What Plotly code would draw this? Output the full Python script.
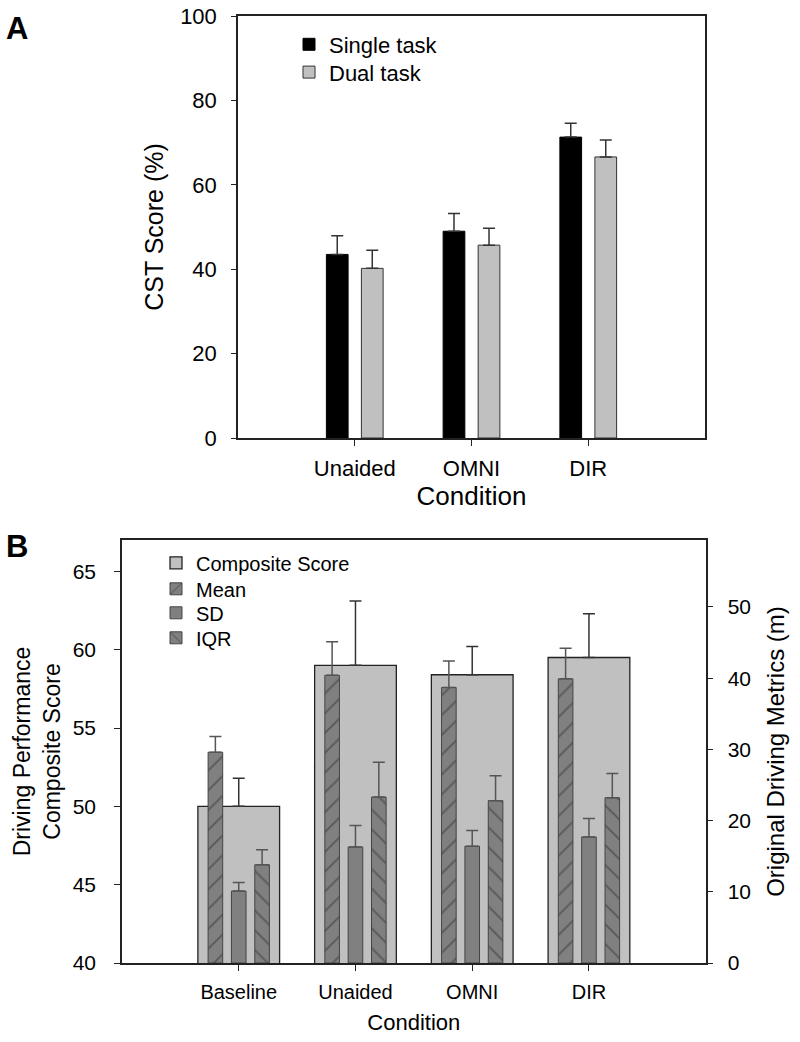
import plotly.graph_objects as go

# ---------------- Data ----------------
conditions_a = ["Unaided", "OMNI", "DIR"]
single_task = [43.5, 49.0, 71.3]
single_task_err = [4.4, 4.2, 3.3]
dual_task = [40.2, 45.7, 66.6]
dual_task_err = [4.3, 4.0, 4.0]

conditions_b = ["Baseline", "Unaided", "OMNI", "DIR"]
composite_score = [50.0, 59.0, 58.4, 59.5]
composite_err = [1.8, 4.1, 1.8, 2.8]
mean_metric = [29.6, 40.4, 38.7, 39.9]
mean_err = [2.2, 4.7, 3.7, 4.3]
sd_metric = [10.1, 16.3, 16.4, 17.7]
sd_err = [1.2, 3.0, 2.2, 2.6]
iqr_metric = [13.8, 23.3, 22.8, 23.2]
iqr_err = [2.1, 4.9, 3.5, 3.4]

FONT = "Liberation Sans, Arial, sans-serif"
W, H = 800, 1042


def px_x(p):
    return p / W


def px_y(p):
    return 1 - p / H


def eb(vals, color, width=6, thick=1.5):
    return dict(type="data", array=vals, arrayminus=[0] * len(vals), symmetric=False,
                color=color, thickness=thick, width=width)


fig = go.Figure()

# ---------------- Panel A ----------------
fig.add_trace(go.Bar(
    x=conditions_a, y=single_task, name="Single task",
    width=0.186, offset=-0.243,
    marker=dict(color="#000000", line=dict(color="#000000", width=1)),
    error_y=eb(single_task_err, "#333333"),
    xaxis="x", yaxis="y", legend="legend", showlegend=True,
))
fig.add_trace(go.Bar(
    x=conditions_a, y=dual_task, name="Dual task",
    width=0.186, offset=0.057,
    marker=dict(color="#c0c0c0", line=dict(color="#333333", width=1)),
    error_y=eb(dual_task_err, "#333333"),
    xaxis="x", yaxis="y", legend="legend2", showlegend=True,
))

# ---------------- Panel B ----------------
fig.add_trace(go.Bar(
    x=conditions_b, y=composite_score, name="Composite Score",
    width=0.70, offset=-0.35,
    marker=dict(color="#c0c0c0", line=dict(color="#222222", width=1.3)),
    error_y=eb(composite_err, "#333333"),
    xaxis="x2", yaxis="y2", legend="legend3", showlegend=True,
))
fig.add_trace(go.Bar(
    x=conditions_b, y=mean_metric, name="Mean",
    width=0.125, offset=-0.2625,
    marker=dict(color="#808080", line=dict(color="#444444", width=1),
                pattern=dict(shape="/", fgcolor="#383838", size=14, solidity=0.14)),
    error_y=eb(mean_err, "#555555"),
    xaxis="x2", yaxis="y3", legend="legend4", showlegend=True,
))
fig.add_trace(go.Bar(
    x=conditions_b, y=sd_metric, name="SD",
    width=0.125, offset=-0.0625,
    marker=dict(color="#808080", line=dict(color="#444444", width=1)),
    error_y=eb(sd_err, "#555555"),
    xaxis="x2", yaxis="y3", legend="legend5", showlegend=True,
))
fig.add_trace(go.Bar(
    x=conditions_b, y=iqr_metric, name="IQR",
    width=0.125, offset=0.1375,
    marker=dict(color="#808080", line=dict(color="#444444", width=1),
                pattern=dict(shape="\\", fgcolor="#383838", size=14, solidity=0.14)),
    error_y=eb(iqr_err, "#555555"),
    xaxis="x2", yaxis="y3", legend="legend6", showlegend=True,
))

axis_line = dict(showline=True, linecolor="#222222", linewidth=1.5, showgrid=False,
                 zeroline=False, ticks="outside", tickcolor="#222222", tickwidth=1.2,
                 automargin=False, ticklabeloverflow="allow")


def leg(x, y, size):
    return dict(x=px_x(x), y=px_y(y), xanchor="left", yanchor="top",
                bgcolor="rgba(0,0,0,0)", font=dict(size=size), tracegroupgap=0)


fig.update_layout(
    width=W, height=H,
    margin=dict(l=0, r=0, t=0, b=0, autoexpand=False),
    paper_bgcolor="white", plot_bgcolor="white",
    font=dict(family=FONT, color="#000000"),
    barmode="overlay",
    showlegend=True,
    xaxis=dict(**axis_line, domain=[px_x(238), px_x(705)], anchor="y",
               range=[-1, 3], ticklen=6, mirror=True,
               tickfont=dict(size=22), ticklabelstandoff=4,
               title=dict(text="Condition", font=dict(size=26), standoff=6)),
    yaxis=dict(**axis_line, domain=[px_y(438), px_y(16)], anchor="x",
               range=[0, 100], tickvals=[0, 20, 40, 60, 80, 100], ticklen=5, mirror=True,
               tickfont=dict(size=22), ticklabelstandoff=10,
               title=dict(text="CST Score (%)", font=dict(size=25), standoff=9)),
    xaxis2=dict(**axis_line, domain=[px_x(122), px_x(705.7)], anchor="y2",
                range=[-1, 4], ticklen=6, mirror=True,
                tickfont=dict(size=20), ticklabelstandoff=4,
                title=dict(text="Condition", font=dict(size=22), standoff=13)),
    yaxis2=dict(**axis_line, domain=[px_y(963), px_y(540)], anchor="x2",
                range=[40, 67], tickvals=[40, 45, 50, 55, 60, 65], ticklen=6,
                tickfont=dict(size=21), ticklabelstandoff=14,
                title=dict(text="Driving Performance<br>Composite Score",
                           font=dict(size=23), standoff=6)),
    yaxis3=dict(**axis_line, overlaying="y2", anchor="x2", side="right",
                range=[0, 59.4], tickvals=[0, 10, 20, 30, 40, 50], ticklen=6,
                tickfont=dict(size=21), ticklabelstandoff=10,
                title=dict(text="Original Driving Metrics (m)", font=dict(size=24), standoff=17)),
    legend=leg(289, 23.5, 22),
    legend2=leg(289, 51.3, 22),
    legend3=leg(156, 543.3, 20),
    legend4=leg(156, 569.3, 20),
    legend5=leg(156, 593.3, 20),
    legend6=leg(156, 618.3, 20),
    annotations=[
        dict(text="<b>A</b>", x=px_x(4), y=px_y(9), xref="paper", yref="paper",
             xanchor="left", yanchor="top", showarrow=False, font=dict(size=31, family=FONT)),
        dict(text="<b>B</b>", x=px_x(4), y=px_y(527), xref="paper", yref="paper",
             xanchor="left", yanchor="top", showarrow=False, font=dict(size=31, family=FONT)),
    ],
)

fig.write_html("out.html", config={"displayModeBar": False},
               post_script="document.body.style.margin='0';")
